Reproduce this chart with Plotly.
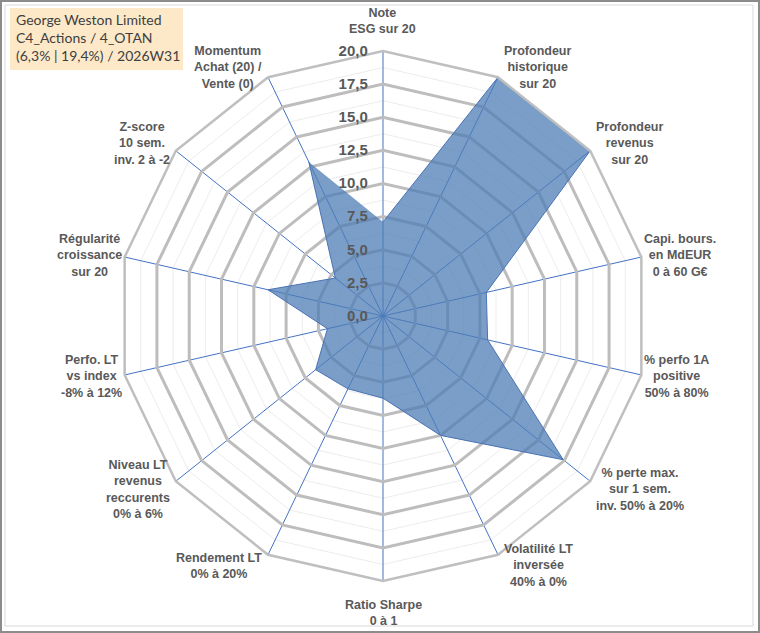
import math
import plotly.graph_objects as go

# axes of the radar, clockwise from the top
categories = [
    "Note ESG sur 20",
    "Profondeur historique sur 20",
    "Profondeur revenus sur 20",
    "Capi. bours. en MdEUR 0 à 60 G€",
    "% perfo 1A positive 50% à 80%",
    "% perte max. sur 1 sem. inv. 50% à 20%",
    "Volatilité LT inversée 40% à 0%",
    "Ratio Sharpe 0 à 1",
    "Rendement LT 0% à 20%",
    "Niveau LT revenus reccurents 0% à 6%",
    "Perfo. LT vs index -8% à 12%",
    "Régularité croissance sur 20",
    "Z-score 10 sem. inv. 2 à -2",
    "Momentum Achat (20) / Vente (0)",
]

# axis labels as they are broken on the chart
axis_labels = [
    "Note<br>ESG sur 20",
    "Profondeur<br>historique<br>sur 20",
    "Profondeur<br>revenus<br>sur 20",
    "Capi. bours.<br>en MdEUR<br>0 à 60 G€",
    "% perfo 1A<br>positive<br>50% à 80%",
    "% perte max.<br>sur 1 sem.<br>inv. 50% à 20%",
    "Volatilité LT<br>inversée<br>40% à 0%",
    "Ratio Sharpe<br>0 à 1",
    "Rendement LT<br>0% à 20%",
    "Niveau LT<br>revenus<br>reccurents<br>0% à 6%",
    "Perfo. LT<br>vs index<br>-8% à 12%",
    "Régularité<br>croissance<br>sur 20",
    "Z-score<br>10 sem.<br>inv. 2 à -2",
    "Momentum<br>Achat (20) /<br>Vente (0)",
]

# scores (scale 0 to 20)
scores = [7.1, 20.0, 20.0, 8.0, 8.1, 17.4, 10.0, 6.2, 6.1, 6.5, 4.3, 8.9, 4.6, 12.9]

title_lines = ["George Weston Limited", "C4_Actions / 4_OTAN", "(6,3% | 19,4%) / 2026W31"]

W, H = 760, 633
cx, cy, rad = 383, 316, 265  # pixel centre and radius of the radar

fig = go.Figure()

# dummy trace so the faint minor grid subplot gets drawn
fig.add_trace(go.Scatterpolar(
    r=scores, theta=categories, mode="lines",
    line=dict(width=0), hoverinfo="skip", showlegend=False,
    subplot="polar",
))

fig.add_trace(go.Scatterpolar(
    r=scores, theta=categories, mode="lines",
    fill="toself",
    fillcolor="rgba(78,126,182,0.75)",
    line=dict(color="#4A72B5", width=1),
    showlegend=False,
    subplot="polar2",
))

domain = dict(x=[(cx - rad) / W, (cx + rad) / W],
              y=[1 - (cy + rad) / H, 1 - (cy - rad) / H])

label_font = dict(family="Liberation Sans, Arial", size=12.5, color="#595959", weight="bold")

# category labels, Excel style: centred text just outside each spoke end
annotations = []
n = len(categories)
for i, lab in enumerate(axis_labels):
    a = math.radians(i * 360 / n)
    s, c = math.sin(a), math.cos(a)
    px_ = cx + (rad + 9) * s
    py_ = cy - (rad + 9) * c
    xa = "center" if abs(s) < 0.1 else ("left" if s > 0 else "right")
    ya = "bottom" if c > 0.95 else ("top" if c < -0.95 else "middle")
    k = 8 if abs(s) > 0.9 else (3 if abs(s) > 0.7 else 0)
    xs = -k if s > 0.1 else (k if s < -0.1 else 0)
    if c > 0.95:
        ys = 4
    elif c > 0.5:
        ys = 2
    elif c < -0.95:
        ys = -6
    elif c < -0.5:
        ys = -3
    else:
        ys = 0
    annotations.append(dict(
        text=lab, xref="paper", yref="paper", x=px_ / W, y=1 - py_ / H,
        xanchor=xa, yanchor=ya, align="center", showarrow=False,
        xshift=xs, yshift=ys, font=label_font,
    ))

annotations.append(dict(
    text="<br>".join(title_lines),
    xref="paper", yref="paper", x=15 / W, y=1 - 10 / H,
    xanchor="left", yanchor="top", align="left", showarrow=False,
    borderpad=0,
    font=dict(family="Lato, Carlito, sans-serif", size=14, color="#404040"),
))

fig.update_layout(
    width=W, height=H,
    margin=dict(l=0, r=0, t=0, b=0),
    paper_bgcolor="white",
    separators=", ",
    polar=dict(
        domain=domain,
        bgcolor="white",
        gridshape="linear",
        angularaxis=dict(direction="clockwise", rotation=90, showgrid=False,
                         showline=False, showticklabels=False, ticks=""),
        radialaxis=dict(range=[0, 20], dtick=1.25, gridcolor="#EDEDED", gridwidth=1,
                        showticklabels=False, showline=False, ticks=""),
    ),
    polar2=dict(
        domain=domain,
        bgcolor="rgba(0,0,0,0)",
        gridshape="linear",
        angularaxis=dict(direction="clockwise", rotation=90,
                         gridcolor="#4472C4", gridwidth=1,
                         showline=True, linecolor="#BFBFBF", linewidth=2.5,
                         ticks="", showticklabels=False),
        radialaxis=dict(range=[0, 20], dtick=2.5, tickformat=".1f",
                        ticksuffix="\u00a0\u00a0\u00a0",
                        gridcolor="#BDBDBD", gridwidth=2.5,
                        showline=False, ticks="", angle=90, tickangle=90,
                        side="counterclockwise",
                        tickfont=dict(family="Liberation Sans, Arial", size=15,
                                      color="#595959", weight="bold")),
    ),
    annotations=annotations,
    shapes=[
        dict(type="rect", xref="paper", yref="paper", x0=10 / W, y0=1 - 70 / H,
             x1=183 / W, y1=1 - 8 / H, fillcolor="#FDE9C8", line=dict(width=0),
             layer="below"),
        dict(type="rect", xref="paper", yref="paper", x0=1 / W, y0=1 / H,
             x1=1 - 1 / W, y1=1 - 1 / H, line=dict(color="#8C8C8C", width=2)),
        dict(type="rect", xref="paper", yref="paper", x0=5 / W, y0=7 / H,
             x1=1 - 7 / W, y1=1 - 5 / H, line=dict(color="#D9D9D9", width=1)),
    ],
)

fig.write_html("out.html", config={"displayModeBar": False},
               post_script="document.body.style.margin='0px';")
